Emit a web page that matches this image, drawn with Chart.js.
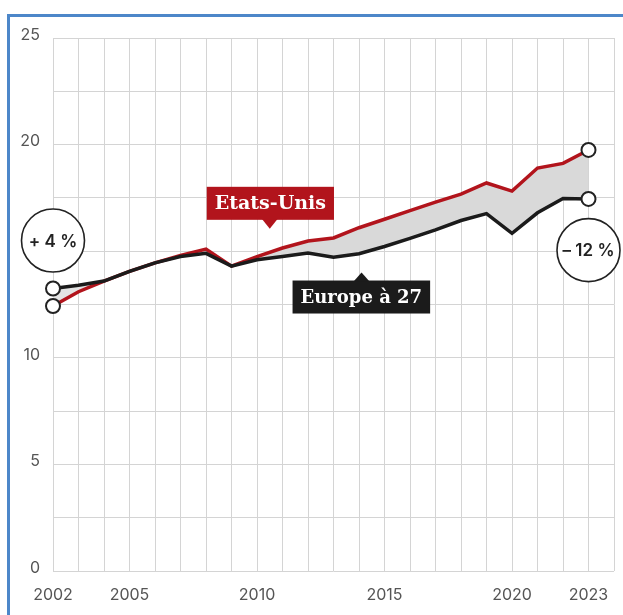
<!DOCTYPE html>
<html>
<head>
<meta charset="utf-8">
<script src="https://cdn.jsdelivr.net/npm/chart.js@4"></script>
<style>
  html, body { margin: 0; padding: 0; background: #fff; }
  #wrap { position: relative; width: 623px; height: 615px; }
  #frame {
    position: absolute; left: 7px; top: 14px; right: -5px; bottom: -5px;
    border-left: 3px solid #4d87c9; border-top: 3px solid #4d87c9;
    pointer-events: none;
  }
</style>
</head>
<body>
<div id="wrap">
  <canvas id="chart" width="623" height="615"></canvas>
  <div id="frame"></div>
</div>
<script>
// data
const years = [2002, 2003, 2004, 2005, 2006, 2007, 2008, 2009, 2010, 2011, 2012, 2013,
               2014, 2015, 2016, 2017, 2018, 2019, 2020, 2021, 2022, 2023];
const europe = [13.25, 13.4, 13.6, 14.05, 14.45, 14.75, 14.9, 14.3, 14.6, 14.75, 14.92, 14.72,
                14.88, 15.22, 15.6, 16.0, 16.44, 16.76, 15.84, 16.8, 17.47, 17.45];
const usa = [12.43, 13.1, 13.6, 14.05, 14.45, 14.8, 15.1, 14.3, 14.75, 15.15, 15.48, 15.62,
             16.1, 16.5, 16.9, 17.3, 17.68, 18.2, 17.82, 18.9, 19.12, 19.75];
const xTickLabels = [2002, 2005, 2010, 2015, 2020, 2023];
const yTickLabels = [0, 5, 10, 15, 20, 25];

const RED = '#b2141c';
const BLACK = '#1b1b1b';
const SANS = 'Inter, "Noto Sans", sans-serif';
const SERIF = '"DejaVu Serif", "Liberation Serif", serif';

function endPoint(ctx) {
  const n = ctx.dataset.data.length;
  return (ctx.dataIndex === 0 || ctx.dataIndex === n - 1) ? 7 : 0;
}

function tagBox(ctx, text, cx, tipY, bg, up, size) {
  ctx.save();
  ctx.font = 'bold ' + size + 'px ' + SERIF;
  const w = ctx.measureText(text).width + 16;
  const h = 33;
  const left = cx - (up ? 69 : 63);
  const top = up ? tipY + 8 : tipY - 9 - h;
  ctx.fillStyle = bg;
  ctx.fillRect(left, top, w, h);
  ctx.beginPath();
  if (up) {
    ctx.moveTo(cx - 8, top + 1); ctx.lineTo(cx, tipY); ctx.lineTo(cx + 8, top + 1);
  } else {
    ctx.moveTo(cx - 8, top + h - 1); ctx.lineTo(cx, tipY); ctx.lineTo(cx + 8, top + h - 1);
  }
  ctx.closePath();
  ctx.fill();
  ctx.fillStyle = '#fff';
  ctx.textAlign = 'left';
  ctx.textBaseline = 'middle';
  ctx.fillText(text, left + 8, top + h / 2 + 1);
  ctx.restore();
}

function badge(ctx, text, cx, cy) {
  ctx.save();
  ctx.beginPath();
  ctx.arc(cx, cy, 31.5, 0, Math.PI * 2);
  ctx.fillStyle = '#fff';
  ctx.fill();
  ctx.lineWidth = 1.6;
  ctx.strokeStyle = '#222';
  ctx.stroke();
  ctx.fillStyle = '#222';
  ctx.font = '600 17px ' + SANS;
  ctx.textAlign = 'center';
  ctx.textBaseline = 'middle';
  ctx.fillText(text, cx, cy + 1);
  ctx.restore();
}

const notes = {
  id: 'notes',
  afterDraw(chart) {
    const ctx = chart.ctx;
    const xs = chart.scales.x, ys = chart.scales.y;
    tagBox(ctx, 'Etats-Unis', xs.getPixelForValue(2010.5), ys.getPixelForValue(16.05), RED, false, 19);
    tagBox(ctx, 'Europe à 27', xs.getPixelForValue(2014.1), ys.getPixelForValue(14.0), BLACK, true, 18);
    badge(ctx, '+ 4 %', xs.getPixelForValue(2002), ys.getPixelForValue(15.5));
    badge(ctx, '– 12 %', xs.getPixelForValue(2023), ys.getPixelForValue(15.05));
  }
};

new Chart(document.getElementById('chart'), {
  type: 'line',
  data: {
    datasets: [
      {
        label: 'Europe à 27',
        data: years.map((y, i) => ({ x: y, y: europe[i] })),
        borderColor: BLACK,
        borderWidth: 3.5,
        tension: 0,
        fill: false,
        clip: false,
        pointRadius: endPoint,
        pointBackgroundColor: '#fff',
        pointBorderColor: '#222',
        pointBorderWidth: 2
      },
      {
        label: 'Etats-Unis',
        data: years.map((y, i) => ({ x: y, y: usa[i] })),
        borderColor: RED,
        borderWidth: 3.5,
        tension: 0,
        clip: false,
        fill: { target: 0, above: '#d9d9d9', below: '#e4e4e4' },
        pointRadius: endPoint,
        pointBackgroundColor: '#fff',
        pointBorderColor: '#222',
        pointBorderWidth: 2
      }
    ]
  },
  options: {
    responsive: false,
    animation: false,
    layout: { padding: { top: 38, right: 6, left: 0, bottom: 0 } },
    plugins: {
      legend: { display: false },
      tooltip: { enabled: false }
    },
    scales: {
      x: {
        type: 'linear',
        min: 2002,
        max: 2024,
        afterFit(scale) {
          scale.height = 44;
          scale.paddingLeft = 0;
          scale.paddingRight = 0;
        },
        afterBuildTicks(scale) {
          const t = [];
          for (let v = 2002; v <= 2024; v++) t.push({ value: v });
          scale.ticks = t;
        },
        grid: { color: '#d4d4d4', lineWidth: 1, drawTicks: false },
        border: { display: false },
        ticks: {
          autoSkip: false,
          maxRotation: 0,
          padding: 15,
          color: '#555',
          font: { family: SANS, size: 16 },
          callback: v => xTickLabels.includes(v) ? String(v) : ''
        }
      },
      y: {
        min: 0,
        max: 25,
        afterFit(scale) { scale.width = 53; },
        grid: { color: '#d4d4d4', lineWidth: 1, drawTicks: false },
        border: { display: false },
        ticks: {
          stepSize: 2.5,
          padding: 13,
          labelOffset: -3,
          color: '#555',
          font: { family: SANS, size: 16 },
          callback: v => yTickLabels.includes(v) ? String(v) : ''
        }
      }
    }
  },
  plugins: [notes]
});
</script>
</body>
</html>
